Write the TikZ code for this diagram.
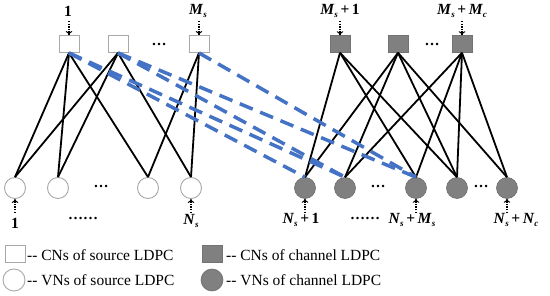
\documentclass[tikz,border=0pt]{standalone}
\usepackage{fontspec}
\setmainfont{Liberation Serif}
\usetikzlibrary{arrows.meta}
\definecolor{dashblue}{HTML}{4472C4}
\definecolor{nodegray}{HTML}{808080}
\definecolor{edgegray}{HTML}{A8A8A8}
\newcommand{\bi}[1]{\textbf{\textit{#1}}}
\newcommand{\sbi}[1]{\raisebox{-0.45ex}{\fontsize{9}{10}\selectfont\bi{#1}}}
\begin{document}
\begin{tikzpicture}[x=1pt,y=-1pt,
  scn/.style={draw=edgegray,line width=0.9pt,fill=white,minimum width=20pt,minimum height=17pt,inner sep=0pt},
  ccn/.style={draw=nodegray!90!black,line width=0.6pt,fill=nodegray,minimum width=20pt,minimum height=17pt,inner sep=0pt},
  svn/.style={circle,draw=edgegray,line width=0.9pt,fill=white,minimum size=21pt,inner sep=0pt},
  cvn/.style={circle,draw=nodegray!85!black,line width=0.6pt,fill=nodegray,minimum size=21pt,inner sep=0pt},
  edge/.style={line width=1.8pt,black},
  dedge/.style={line width=3.5pt,dashblue,dash pattern=on 14pt off 8pt},
  idx/.style={line width=1.1pt,dash pattern=on 1.4pt off 1.2pt,-{To[length=4pt,width=6.5pt,line width=1pt]}},
  lab/.style={font=\fontsize{15.5}{17}\selectfont\bfseries,inner sep=0pt},
  leg/.style={font=\fontsize{15.5}{17}\selectfont,anchor=west,inner sep=0pt},
  dots/.style={font=\fontsize{15}{16}\selectfont\bfseries,inner sep=0pt}
]
\useasboundingbox (0,0) rectangle (550,296);
% source CNs
\node[scn] (s1) at (69,44) {};
\node[scn] (s2) at (118,44) {};
\node[scn] (s3) at (199,44) {};
\node[dots] (sd) at (159,45) {\ldots};
% channel CNs
\node[ccn] (c1) at (340,44) {};
\node[ccn] (c2) at (398,44) {};
\node[ccn] (c3) at (462,44) {};
\node[dots] (cd) at (432,45) {\ldots};
% source VNs
\node[svn] (v1) at (15,188) {};
\node[svn] (v2) at (58,188) {};
\node[svn] (v3) at (148,188) {};
\node[svn] (v4) at (191,188) {};
\node[dots] (vd) at (101,186) {\ldots};
% channel VNs
\node[cvn] (w1) at (305,188) {};
\node[cvn] (w2) at (345,188) {};
\node[cvn] (w3) at (416,188) {};
\node[cvn] (w4) at (457,188) {};
\node[cvn] (w5) at (507,188) {};
\node[dots] (wd1) at (378,186) {\ldots};
\node[dots] (wd2) at (481,186) {\ldots};
% source edges
\foreach \a/\b in {s1/v1,s1/v2,s1/v3,s2/v1,s2/v2,s2/v4,s3/v3,s3/v4}
  \draw[edge] (\a.south) -- (\b.north);
% channel edges
\foreach \a/\b in {c1/w1,c1/w3,c1/w4,c2/w1,c2/w2,c2/w4,c2/w5,c3/w2,c3/w3,c3/w4,c3/w5}
  \draw[edge] (\a.south) -- (\b.north);
% dashed links
\foreach \a/\b in {s1/w1,s1/w2,s2/w2,s2/w3,s3/w3}
  \draw[dedge] (\a.south) -- (\b.north);
% top labels
\node[lab] (ls1) at (68,11) {1};
\node[lab] (ls3) at (198,11) {\bi{M}\sbi{s}};
\node[lab] (lc1) at (340,11) {\bi{M}\sbi{s}\,+\,1};
\node[lab] (lc3) at (462,11) {\bi{M}\sbi{s}\,+\,\bi{M}\sbi{c}};
\coordinate (ts1) at (69,21);
\coordinate (ts3) at (199,21);
\coordinate (tc1) at (340,21);
\coordinate (tc3) at (462,21);
\draw[idx] (ts1) -- (s1.north);
\draw[idx] (ts3) -- (s3.north);
\draw[idx] (tc1) -- (c1.north);
\draw[idx] (tc3) -- (c3.north);
% bottom labels
\coordinate (bv1) at (15,213);
\coordinate (bv4) at (191,213);
\coordinate (bw1) at (305,213);
\coordinate (bw3) at (416,213);
\coordinate (bw5) at (507,213);
\draw[idx] (bv1) -- (v1.south);
\draw[idx] (bv4) -- (v4.south);
\draw[idx] (bw1) -- (w1.south);
\draw[idx] (bw3) -- (w3.south);
\draw[idx] (bw5) -- (w5.south);
\node[lab] (lv1) at (15,223) {1};
\node[dots] (lvd) at (83,218) {\ldots\ldots};
\node[lab] (lv4) at (191,221) {\bi{N}\sbi{s}};
\node[lab] (lw1) at (301,220) {\bi{N}\sbi{s}\,+\,1};
\node[dots] (lwd) at (365,218) {\ldots\ldots};
\node[lab] (lw3) at (412,220) {\bi{N}\sbi{s}\,+\,\bi{M}\sbi{s}};
\node[lab] (lw5) at (516,220) {\bi{N}\sbi{s}\,+\,\bi{N}\sbi{c}};
% legend
\node[scn] (gs) at (15,253.5) {};
\node[leg] (gst) at (27,255) {-{}- CNs of source LDPC};
\node[svn,minimum size=22pt] (gv) at (14,280) {};
\node[leg] (gvt) at (27,280) {-{}- VNs of source LDPC};
\node[ccn] (gc) at (212.5,253.5) {};
\node[leg] (gct) at (226,255) {-{}- CNs of channel LDPC};
\node[cvn,minimum size=22pt] (gw) at (212,280) {};
\node[leg] (gwt) at (226,280) {-{}- VNs of channel LDPC};
\end{tikzpicture}
\end{document}
